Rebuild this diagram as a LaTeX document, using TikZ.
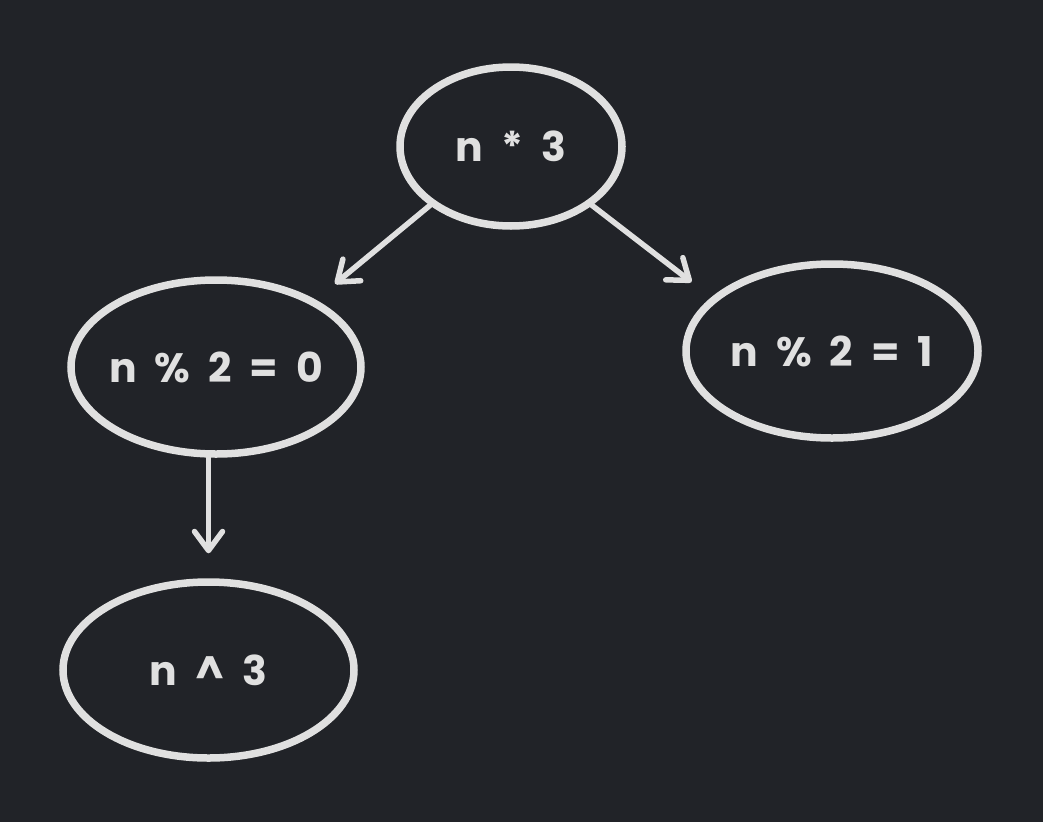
\documentclass[tikz,border=0pt]{standalone}
\usepackage{fontspec}
\setmainfont{Poppins}
\usetikzlibrary{arrows.meta,shapes.geometric}
\definecolor{bg}{HTML}{212328}
\definecolor{fg}{HTML}{E0E0E0}
\newcommand\bubblefont{\fontsize{41}{46}\selectfont\bfseries\spaceskip 18pt\relax}
\newcommand\fixedtext[1]{\makebox[0pt]{#1}}
\tikzset{
  bubble/.style={ellipse, draw=fg, line width=7.5pt, inner sep=0pt, text=fg,
    font=\bubblefont},
  link/.style={draw=fg, line width=5.5pt, line cap=round, line join=round,
    -{Straight Barb[length=19pt,width=28pt,line width=5.5pt,round]}, shorten >=25pt}
}
\begin{document}
\begin{tikzpicture}[x=1pt,y=-1pt]
\fill[bg] (0,0) rectangle (1043,822);
\useasboundingbox (0,0) rectangle (1043,822);
\node[bubble, minimum width=222pt, minimum height=159pt] (top) at (511,146.5) {\fixedtext{n * 3}};
\node[bubble, minimum width=290pt, minimum height=174pt] (left) at (216,367) {\fixedtext{n \% 2 = 0}};
\node[bubble, minimum width=292pt, minimum height=174pt] (right) at (832,351) {\fixedtext{n \% 2 = 1}};
\node[bubble, minimum width=291pt, minimum height=176pt] (bottom) at (208.5,670) {\fixedtext{n \^{} 3}};
\draw[link] (top.216.5) -- (left.34.6);
\draw[link] (top.324) -- (right.156.1);
\draw[link] (left.south -| bottom.north) -- (bottom.north);
\end{tikzpicture}
\end{document}
